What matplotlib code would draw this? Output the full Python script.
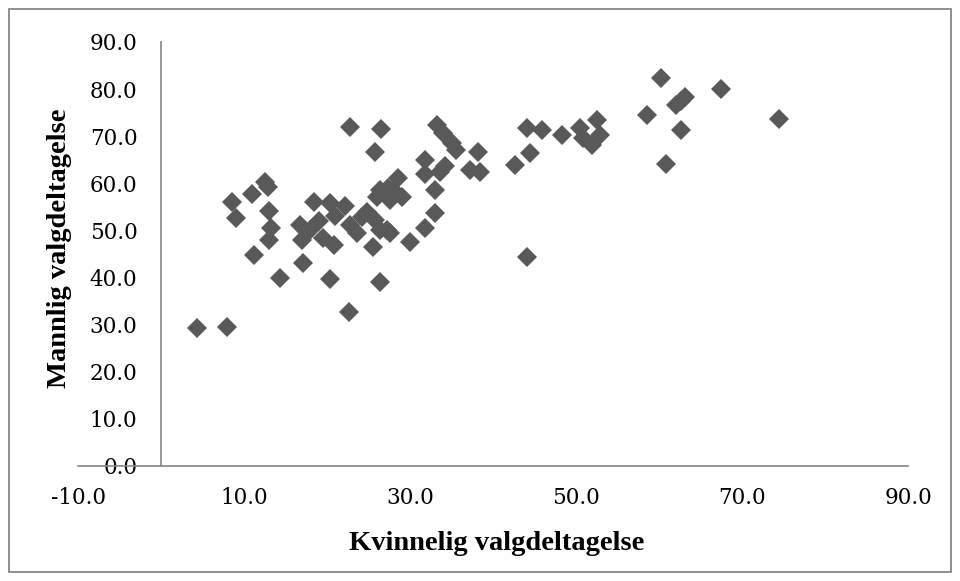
import matplotlib
matplotlib.use("Agg")
import matplotlib.pyplot as plt
from matplotlib.patches import Rectangle

# female turnout (x) and male turnout (y)
kvinnelig = [
    4.3, 8.0, 8.6, 9.0, 11.0, 12.5, 12.9, 13.05, 13.2, 13.05, 11.2, 14.3,
    16.7, 17.0, 17.1, 18.4, 19.0, 19.5, 20.4, 20.8, 20.4, 22.2, 22.7, 22.8,
    22.8, 18.0, 21.0, 24.2, 23.6, 25.8, 27.2, 25.6, 26.4, 26.5, 25.8, 26.0,
    26.4, 27.4, 27.6, 24.8, 26.4, 27.6, 28.6, 29.0, 28.0, 30.0,
    31.8, 31.8, 33.0, 33.0, 31.8, 33.2, 34.0, 35.0, 35.6, 34.2, 33.6,
    38.2, 37.2, 38.4,
    42.7, 44.1, 45.9, 48.3, 50.5, 52.5, 52.9, 51.9, 50.9, 44.5, 44.1,
    58.5, 60.3, 67.5, 63.1, 62.1, 62.6, 62.7, 74.4, 60.8,
]
mannlig = [
    29.2, 29.6, 56.1, 52.6, 57.7, 60.2, 59.3, 54.1, 50.5, 48.0, 44.7, 40.0,
    51.2, 48.0, 43.1, 56.1, 51.9, 48.4, 55.8, 46.9, 39.7, 55.1, 32.7, 72.0,
    51.2, 50.0, 53.0, 52.9, 49.4, 52.2, 50.1, 46.4, 39.1, 71.5, 66.6, 57.2,
    58.6, 59.0, 56.5, 54.0, 50.1, 49.4, 61.1, 57.2, 58.6, 47.6,
    65.0, 62.0, 58.6, 53.6, 50.5, 72.4, 70.7, 68.6, 67.1, 63.6, 62.5,
    66.7, 62.8, 62.5,
    63.8, 71.7, 71.3, 70.3, 71.7, 73.5, 70.3, 68.2, 69.6, 66.4, 44.4,
    74.4, 82.3, 80.0, 78.4, 76.6, 77.5, 71.3, 73.6, 64.1,
]

x_ticks = [-10, 10, 30, 50, 70, 90]
y_ticks = [0, 10, 20, 30, 40, 50, 60, 70, 80, 90]

axis_grey = "#868686"
marker_grey = "#595959"

fig = plt.figure(figsize=(9.6, 5.81), dpi=100)
ax = fig.add_axes([78 / 960, 115 / 581, 830 / 960, 424 / 581])

ax.plot(kvinnelig, mannlig, linestyle="none", marker="D", markersize=10.6,
        markeredgewidth=0, color=marker_grey, clip_on=False, zorder=3)

ax.set_xlim(-10, 90)
ax.set_ylim(0, 90)

# Excel style: vertical axis crosses at x = 0
ax.spines["left"].set_position(("data", 0))
ax.spines["top"].set_visible(False)
ax.spines["right"].set_visible(False)
for side in ["left", "bottom"]:
    ax.spines[side].set_color(axis_grey)
    ax.spines[side].set_linewidth(1.2)

ax.set_xticks(x_ticks)
ax.set_xticklabels([f"{v:.1f}" for v in x_ticks])
ax.set_yticks(y_ticks)
ax.set_yticklabels([f"{v:.1f}" for v in y_ticks])
ax.tick_params(axis="both", length=0, labelsize=15.5, colors="black")
ax.tick_params(axis="x", pad=15)
ax.tick_params(axis="y", pad=17)
for lab in ax.get_xticklabels() + ax.get_yticklabels():
    lab.set_family("DejaVu Serif")

fig.text(497 / 960, 1 - 543 / 581, "Kvinnelig valgdeltagelse",
         ha="center", va="center", fontsize=20.5, fontweight="bold",
         family="Liberation Serif")
fig.text(60 / 960, 1 - 248 / 581, "Mannlig valgdeltagelse",
         ha="center", va="center", rotation=90, fontsize=20.5,
         fontweight="bold", family="Liberation Serif")

# chart border
fig.patches.append(Rectangle((9 / 960, 9 / 581), 942 / 960, 563 / 581,
                             transform=fig.transFigure, fill=False,
                             edgecolor=axis_grey, linewidth=1.3))

fig.savefig("out.png", dpi=100)
